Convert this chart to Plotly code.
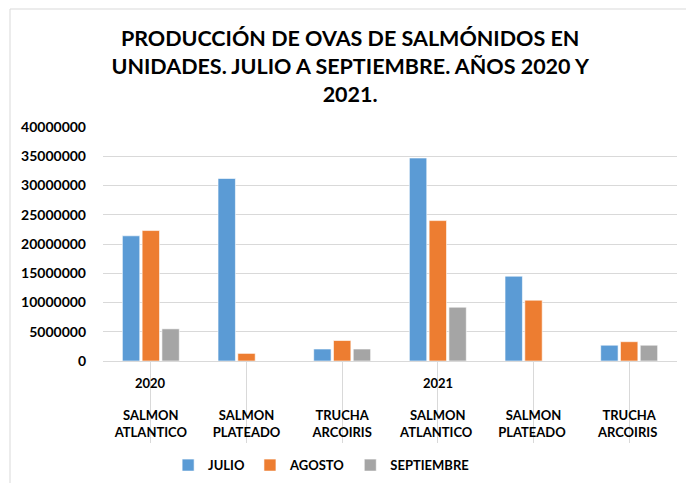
import plotly.graph_objects as go

categories = ["SALMON<br>ATLANTICO", "SALMON<br>PLATEADO", "TRUCHA<br>ARCOIRIS",
              "SALMON<br>ATLANTICO ", "SALMON<br>PLATEADO ", "TRUCHA<br>ARCOIRIS "]
years = ["2020", "2021"]
year_positions = [0, 3]
julio = [21400000, 31200000, 2050000, 34700000, 14500000, 2700000]
agosto = [22300000, 1300000, 3500000, 24000000, 10400000, 3300000]
septiembre = [5500000, 0, 2050000, 9200000, 0, 2700000]
series_names = ["JULIO", "AGOSTO", "SEPTIEMBRE"]
colors = ["#5B9BD5", "#ED7D31", "#A5A5A5"]

FONT = "Lato"
fig = go.Figure()
for name, vals, col in zip(series_names, [julio, agosto, septiembre], colors):
    fig.add_trace(go.Bar(
        x=list(range(len(categories))), y=vals, name="<b>" + name + "</b>",
        marker=dict(color=col, line=dict(color="rgba(255,255,255,0.6)", width=1)),
    ))

for yr, pos in zip(years, year_positions):
    fig.add_annotation(x=pos, y=-0.095, xref="x", yref="paper", text="<b>" + yr + "</b>",
                       showarrow=False, font=dict(family=FONT, size=13, color="#000"),
                       yanchor="middle")

fig.update_layout(
    width=694, height=483,
    paper_bgcolor="white", plot_bgcolor="white",
    margin=dict(l=95, r=25, t=119, b=130, autoexpand=False),
    barmode="group", bargap=0.38, bargroupgap=0.12,
    font=dict(family=FONT, color="#000"),
    title=dict(
        text="<b>PRODUCCIÓN DE OVAS DE SALMÓNIDOS EN<br>UNIDADES. JULIO A SEPTIEMBRE. AÑOS 2020 Y<br>2021.</b>",
        x=0.493, xanchor="center", y=0.922, yanchor="middle",
        font=dict(family=FONT, size=21.5, color="#000"),
    ),
    legend=dict(orientation="h", x=0.38, xanchor="center", y=-0.445, yanchor="middle",
                font=dict(family=FONT, size=13, color="#000"), itemwidth=30,
                traceorder="normal", tracegroupgap=0),
    xaxis=dict(
        tickmode="array", tickvals=list(range(len(categories))),
        ticktext=["<b>" + c + "</b>" for c in categories],
        tickson="boundaries", ticks="outside", ticklen=81, tickcolor="#D9D9D9", tickwidth=1,
        ticklabelstandoff=-39, automargin=False,
        showline=True, linecolor="#D9D9D9", linewidth=1,
        tickfont=dict(family=FONT, size=13, color="#000"),
        range=[-0.5, 5.5], showgrid=False,
    ),
    yaxis=dict(
        range=[0, 40000000], dtick=5000000, tickformat="d",
        showgrid=True, gridcolor="#D9D9D9", gridwidth=1,
        zeroline=False, showline=False, ticks="", automargin=False,
        ticklabelstandoff=16,
        tickfont=dict(family=FONT, size=14, color="#000"),
        tickprefix="<b>", ticksuffix="</b>",
    ),
    shapes=[dict(type="rect", xref="paper", yref="paper",
                 x0=(2 - 95) / 574, x1=(682 - 95) / 574, y0=-0.6, y1=(353 - 1) / 234,
                 line=dict(color="#D9D9D9", width=1), fillcolor="rgba(0,0,0,0)", layer="below")],
)

fig.write_html("out.html")
